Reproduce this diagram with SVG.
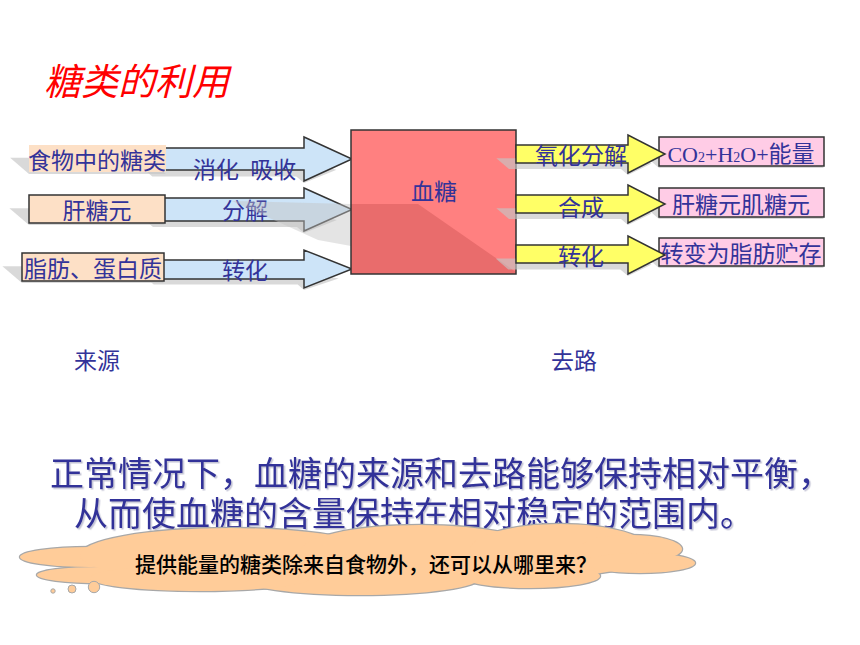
<svg xmlns="http://www.w3.org/2000/svg" xmlns:xlink="http://www.w3.org/1999/xlink" width="860" height="645" viewBox="0 0 860 645">
<style>
.t{font-family:"Noto Sans CJK SC","Noto Sans",sans-serif;fill:#333399;font-size:23px}
.c{text-anchor:middle}
.sh{fill:#c4c4c4;fill-opacity:0.65;stroke:none}
.blue{fill:#cde4f8;stroke:#333;stroke-width:1.5}
.yel{fill:#ffff66;stroke:#333;stroke-width:1.5}
.peach{fill:#fde0c6;stroke:#333;stroke-width:1.5}
.pink{fill:#ffcce6;stroke:#333;stroke-width:1.5}
</style>
<defs>
<filter id="ts" x="-5%" y="-20%" width="110%" height="140%">
<feDropShadow dx="1.5" dy="1.5" stdDeviation="0.7" flood-color="#8888aa" flood-opacity="0.5"/>
</filter>
<path id="la1" d="M160,148 H304 V137 L352,159 L304,181 V170 H160 Z"/>
<path id="la2" d="M160,198 H304 V188 L352,209.5 L304,231 V221 H160 Z"/>
<path id="la3" d="M160,260 H304 V250 L352,269 L304,288 V279 H160 Z"/>
<path id="ra1" d="M516,145 H628 V135 L665,154 L628,173 V163 H516 Z"/>
<path id="ra2" d="M516,195 H628 V185 L665,204 L628,223 V213 H516 Z"/>
<path id="ra3" d="M516,245 H628 V236 L665,255 L628,274 V263 H516 Z"/>
<rect id="b1" x="29" y="145" width="137" height="27"/>
<rect id="b2" x="29" y="195" width="136" height="28"/>
<rect id="b3" x="22" y="253" width="142" height="28"/>
<rect id="p1" x="659" y="137" width="165" height="29"/>
<rect id="p2" x="659" y="188" width="165" height="29"/>
<rect id="p3" x="659" y="238" width="165" height="28"/>
<g id="cloud">
<ellipse cx="90" cy="557" rx="70" ry="10"/>
<ellipse cx="100" cy="575" rx="63" ry="8"/>
<ellipse cx="230" cy="555" rx="150" ry="27"/>
<ellipse cx="420" cy="552" rx="120" ry="27"/>
<ellipse cx="560" cy="550" rx="90" ry="26"/>
<ellipse cx="630" cy="549" rx="52" ry="14"/>
<ellipse cx="640" cy="563" rx="55" ry="10"/>
<ellipse cx="530" cy="576" rx="70" ry="12"/>
<ellipse cx="360" cy="578" rx="120" ry="17"/>
<ellipse cx="200" cy="578" rx="110" ry="13"/>
</g>
</defs>

<text id="title" x="44" y="95" style="font-family:'Noto Sans CJK SC','Noto Sans',sans-serif;font-size:37px;font-style:italic;fill:#ff0000">糖类的利用</text>

<g id="shadows-left">
<use xlink:href="#la1" class="sh" transform="matrix(1,0,0.7,0.6,-126.7,74.4)"/>
<use xlink:href="#la2" class="sh" transform="matrix(1,0,0.7,0.6,-161.7,94.4)"/>
<use xlink:href="#la3" class="sh" transform="matrix(1,0,0.7,0.6,-201.6,117.2)"/>
<use xlink:href="#b1" class="sh" transform="matrix(1,0,0.7,0.6,-120.4,70.8)"/>
<use xlink:href="#b2" class="sh" transform="matrix(1,0,0.7,0.6,-156.1,91.2)"/>
<use xlink:href="#b3" class="sh" transform="matrix(1,0,0.7,0.6,-196.7,114.4)"/>
</g>

<g id="connectors">
<g id="arrow-digest"><use xlink:href="#la1" class="blue"/><text class="t" x="193" y="178" style="word-spacing:6px">消化 吸收</text></g>
<g id="arrow-decompose"><use xlink:href="#la2" class="blue"/><text class="t c" x="245" y="219">分解</text></g>
<g id="arrow-convert-in"><use xlink:href="#la3" class="blue"/><text class="t c" x="245" y="279">转化</text></g>
</g>

<g id="node-food"><use xlink:href="#b1" fill="#fde0c6" stroke="none"/><text class="t c" x="97" y="169">食物中的糖类</text></g>
<g id="node-glycogen"><use xlink:href="#b2" class="peach"/><text class="t c" x="97" y="219">肝糖元</text></g>
<g id="node-fat"><use xlink:href="#b3" class="peach"/><text class="t c" x="93" y="277">脂肪、蛋白质</text></g>

<polygon class="sh" points="232,201 351,204 351,246 318,240" style="fill-opacity:0.45"/>

<g id="node-blood">
<rect x="351" y="130" width="165" height="144" fill="#ff8080"/>
<polygon points="351,204 418,204 516,272 516,274 351,274" fill="#e96c6c"/>
<rect x="351" y="130" width="165" height="144" fill="none" stroke="#333" stroke-width="1.5"/>
<text class="t c" x="434" y="200">血糖</text>
</g>

<g id="shadows-right">
<use xlink:href="#p1" class="sh" transform="matrix(1,0,0.7,0.6,-116.2,68.4)"/>
<use xlink:href="#p2" class="sh" transform="matrix(1,0,0.7,0.6,-151.9,88.8)"/>
<use xlink:href="#p3" class="sh" transform="matrix(1,0,0.7,0.6,-186.2,108.4)"/>
</g>
<g id="node-energy"><use xlink:href="#p1" class="pink"/><text x="741" y="162" class="c" style="font-size:22px;fill:#333399;font-family:'Liberation Serif','Noto Sans CJK SC',serif">CO<tspan style="font-size:14px">2</tspan>+H<tspan style="font-size:14px">2</tspan>O+<tspan style="font-family:'Noto Sans CJK SC',sans-serif;font-size:23px">能量</tspan></text></g>
<g id="node-store"><use xlink:href="#p2" class="pink"/><text class="t c" x="741" y="213">肝糖元肌糖元</text></g>
<g id="node-fatstore"><use xlink:href="#p3" class="pink"/><text class="t c" x="741" y="262">转变为脂肪贮存</text></g>

<g id="shadows-right-arrows">
<use xlink:href="#ra1" class="sh" transform="matrix(1,0,0.7,0.6,-121.1,71.2)"/>
<use xlink:href="#ra2" class="sh" transform="matrix(1,0,0.7,0.6,-156.1,91.2)"/>
<use xlink:href="#ra3" class="sh" transform="matrix(1,0,0.7,0.6,-191.8,111.6)"/>
</g>
<g id="connectors-out">
<g id="arrow-oxidize"><use xlink:href="#ra1" class="yel"/><text class="t c" x="581" y="164">氧化分解</text></g>
<g id="arrow-synth"><use xlink:href="#ra2" class="yel"/><text class="t c" x="581" y="216">合成</text></g>
<g id="arrow-convert-out"><use xlink:href="#ra3" class="yel"/><text class="t c" x="581" y="265">转化</text></g>
</g>

<text class="t c" x="97" y="369">来源</text>
<text class="t c" x="574" y="369">去路</text>

<text filter="url(#ts)" style="font-family:'Noto Sans CJK SC','Noto Sans',sans-serif;font-size:34px;fill:#333399"><tspan x="50" y="486">正常情况下，血糖的来源和去路能够保持相对平衡，</tspan><tspan x="74" y="526">从而使血糖的含量保持在相对稳定的范围内。</tspan></text>

<g id="cloud-note">
<use xlink:href="#cloud" fill="#ffcc99" stroke="#a8a8a8" stroke-width="2.5"/>
<use xlink:href="#cloud" fill="#ffcc99" stroke="none"/>
<circle cx="53" cy="591" r="2.2" fill="#ffcc99" stroke="#a8a8a8" stroke-width="1"/>
<circle cx="72" cy="589" r="4" fill="#ffcc99" stroke="#a8a8a8" stroke-width="1"/>
<circle cx="94" cy="587" r="5.7" fill="#ffcc99" stroke="#a8a8a8" stroke-width="1"/>
<text x="135" y="572" style="font-family:'Noto Sans CJK SC','Noto Sans',sans-serif;font-size:21px;fill:#000;font-weight:500">提供能量的糖类除来自食物外，还可以从哪里来？</text>
</g>
</svg>
